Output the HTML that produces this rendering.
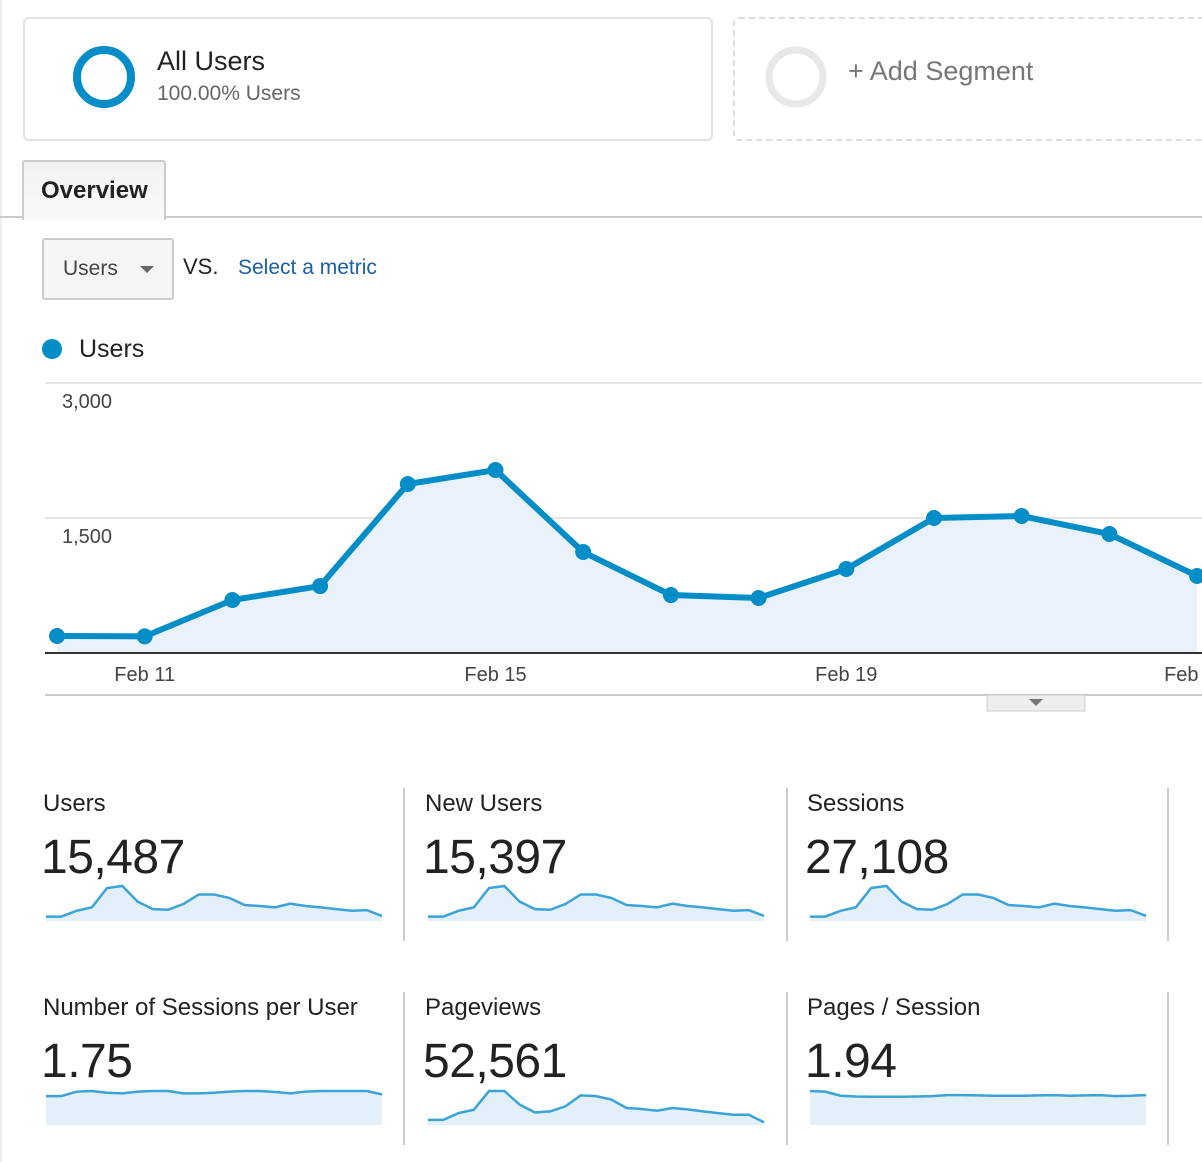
<!DOCTYPE html>
<html><head><meta charset="utf-8">
<style>
body{margin:0;width:1202px;height:1162px;overflow:hidden;background:#fff;font-family:"Liberation Sans",sans-serif;position:relative;color:#222}
.abs{position:absolute}
.lbl{font-size:24px;color:#222}
.big{font-size:48px;color:#222;letter-spacing:-0.5px}
.div{position:absolute;width:2px;background:#ccc}
</style></head><body>
<div class="abs" style="left:0;top:0;width:2px;height:1162px;background:#eee"></div>
<div class="abs" style="left:23px;top:17px;width:686px;height:120px;border:2px solid #e2e2e2;border-radius:6px"></div>
<svg class="abs" style="left:70px;top:43px" width="70" height="70"><circle cx="34" cy="34" r="27" fill="none" stroke="#058dc7" stroke-width="8"/></svg>
<div class="abs" style="left:157px;top:46px;font-size:27px">All Users</div>
<div class="abs" style="left:157px;top:82px;font-size:21px;color:#666">100.00% Users</div>
<div class="abs" style="left:733px;top:17px;width:480px;height:120px;border:2px dashed #ddd;border-radius:6px"></div>
<svg class="abs" style="left:762px;top:43px" width="70" height="70"><circle cx="34" cy="34" r="27" fill="none" stroke="#e8e8e8" stroke-width="7"/></svg>
<div class="abs" style="left:848px;top:56px;font-size:27px;color:#777">+ Add Segment</div>
<div class="abs" style="left:0;top:216px;width:1202px;height:2px;background:#ccc"></div>
<div class="abs" style="left:22px;top:160px;width:140px;height:58px;border:2px solid #ccc;border-bottom:none;background:linear-gradient(#f2f2f2,#fafafa);border-radius:3px 3px 0 0"><div style="position:absolute;left:17px;top:15px;font-size:24px;font-weight:bold;color:#222">Overview</div></div>
<div class="abs" style="left:42px;top:238px;width:128px;height:58px;border:2px solid #ccc;border-radius:3px;background:#f5f5f5"><span style="position:absolute;left:19px;top:17px;font-size:21px;color:#444">Users</span><span style="position:absolute;left:96px;top:26px;width:0;height:0;border-left:7px solid transparent;border-right:7px solid transparent;border-top:7px solid #666"></span></div>
<div class="abs" style="left:183px;top:254px;font-size:22px">VS.</div>
<div class="abs" style="left:238px;top:256px;font-size:21px;color:#1a5fa6">Select a metric</div>
<div class="abs" style="left:42px;top:339px;width:20px;height:20px;border-radius:50%;background:#058dc7"></div>
<div class="abs" style="left:79px;top:335px;font-size:25px">Users</div>
<svg class="abs" id="main" style="left:0;top:370px" width="1202" height="350"></svg>
<div id="cards"></div>
<script>
const categories=["Feb 10","Feb 11","Feb 12","Feb 13","Feb 14","Feb 15","Feb 16","Feb 17","Feb 18","Feb 19","Feb 20","Feb 21","Feb 22","Feb 23"];
const usersValues=[189,185,589,744,1878,2033,1122,644,611,933,1500,1522,1322,856];
const yTicks=[1500,3000];
const yTickLabels=["1,500","3,000"];
const xTickIdx=[1,5,9,13];
const xTickLabels=["Feb 11","Feb 15","Feb 19","Feb"];
const NS="http://www.w3.org/2000/svg";
const svg=document.getElementById('main');
const x=i=>57+i*87.7, y=v=>283-v*0.09;
function mk(t,a,p){const e=document.createElementNS(NS,t);for(const k in a)e.setAttribute(k,a[k]);(p||svg).appendChild(e);return e;}
yTicks.forEach((t,i)=>{
 const g=mk('line',{x1:45,x2:1202,y1:y(t),y2:y(t),stroke:'#e6e6e6','stroke-width':2});
 
 const tx=mk('text',{x:62,y:y(t)+25,'font-size':20,fill:'#444','font-family':'Liberation Sans'});tx.textContent=yTickLabels[i];
 
});
let pts=usersValues.map((v,i)=>x(i)+','+y(v)).join(' ');
const area=mk('polygon',{points:x(0)+','+y(0)+' '+pts+' '+x(usersValues.length-1)+','+y(0),fill:'#e9f2fa'});

const base=mk('line',{x1:45,x2:1202,y1:y(0),y2:y(0),stroke:'#333','stroke-width':2});

const line=mk('polyline',{points:pts,fill:'none',stroke:'#058dc7','stroke-width':6,'stroke-linejoin':'round'});

usersValues.forEach((v,i)=>{const c=mk('circle',{cx:x(i),cy:y(v),r:8,fill:'#058dc7'});
 });
xTickIdx.forEach((ix,i)=>{const t=mk('text',{x:x(ix),y:311,'font-size':20,fill:'#444','text-anchor':i==3?'start':'middle','font-family':'Liberation Sans'});
 if(i==3)t.setAttribute('x',x(ix)-33);t.textContent=xTickLabels[i];
 });
const bl=mk('line',{x1:45,x2:1202,y1:325,y2:325,stroke:'#ccc','stroke-width':2});

const hd=mk('rect',{x:987,y:325,width:98,height:16,fill:'#eee',stroke:'#ccc'});

const tri=mk('polygon',{points:'1029,329 1043,329 1036,336',fill:'#777'});


const sparkUsers=[13,13,30,40,97,103,57,35,33,50,78,78,68,47,44,40,51,44,40,35,30,32,15];
const sparkNewUsers=[13,13,30,40,97,103,57,35,33,50,78,78,68,47,44,40,51,44,40,35,30,32,15];
const sparkSessions=[13,13,30,40,97,103,57,35,33,50,78,78,68,47,44,40,51,44,40,35,30,32,15];
const sparkSessPerUser=[85,85,98,100,95,93,98,100,100,93,93,95,98,100,100,97,93,98,100,100,100,100,90];
const sparkPageviews=[15,15,35,45,100,100,60,37,40,55,87,85,75,50,47,42,50,46,40,35,30,30,8];
const sparkPagesPerSession=[100,98,86,84,83,83,83,84,85,88,88,87,86,86,86,87,88,86,87,88,85,86,88];
const cardNames=["Users","New Users","Sessions","Number of Sessions per User","Pageviews","Pages / Session"];
const cardValues=["15,487","15,397","27,108","1.75","52,561","1.94"];
const sparks=[sparkUsers,sparkNewUsers,sparkSessions,sparkSessPerUser,sparkPageviews,sparkPagesPerSession];
const cards=document.getElementById('cards');
cardNames.forEach((n,k)=>{
 const col=k%3,row=Math.floor(k/3);const L=[43,425,807][col],T=[788,992][row];
 const d=document.createElement('div');d.className='abs';d.style.left=L+'px';d.style.top=T+'px';d.style.width='345px';d.style.height='150px';
 
 
 d.innerHTML='<div class="lbl" style="position:absolute;left:0;top:2px;white-space:nowrap">'+n+'</div><div class="big" style="position:absolute;left:-2px;top:42px">'+cardValues[k]+'</div>';
 cards.appendChild(d);
 const s=document.createElementNS(NS,'svg');s.setAttribute('width',345);s.setAttribute('height',60);s.style.position='absolute';s.style.left='3px';s.style.top='80px';
 
 
 d.appendChild(s);
 const vals=sparks[k];const sx=i=>i*336/(vals.length-1), sy=v=>53-v*0.34;
 const p=vals.map((v,i)=>sx(i)+','+sy(v)).join(' ');
 const a=mk('polygon',{points:'0,53 '+p+' 336,53',fill:'#e3f0fa'},s);
 
 const l=mk('polyline',{points:p,fill:'none',stroke:'#3aa3d8','stroke-width':2.5},s);
 
 const dv=document.createElement('div');dv.className='div';dv.style.left=[403,786,1167][col]+'px';dv.style.top=T+'px';dv.style.height='153px';
 
 
 cards.appendChild(dv);
});
</script>
</body></html>
